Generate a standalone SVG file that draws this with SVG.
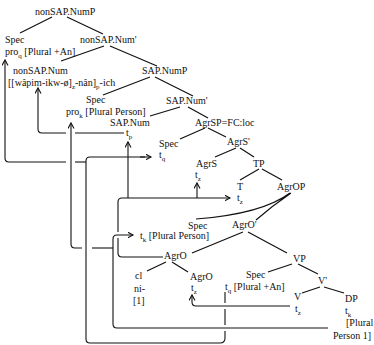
<svg xmlns="http://www.w3.org/2000/svg" width="374" height="345" viewBox="0 0 374 345">
<style>
text{font-family:"Liberation Serif","Times New Roman",serif;font-size:10px;fill:#111}
.s{font-size:7px}
.t{stroke:#111;stroke-width:1.2;fill:none}
.m{stroke:#111;stroke-width:1.1;fill:none}
.a{marker-end:url(#ah)}
</style>
<defs>
<marker id="ah" markerWidth="8" markerHeight="8" refX="5.5" refY="3" orient="auto" markerUnits="userSpaceOnUse"><path d="M0,0 L5.5,3 L0,6" fill="none" stroke="#111" stroke-width="1.1"/></marker>
</defs>
<rect width="374" height="345" fill="#fff"/>
<g id="connectors">
<path class="t" d="M52,17 L20,33 M67,17 L103,34 M104,46 L61,61 M110,46 L157,66 M150,77 L103,95 M155,77 L193,96 M180,107 L150,116 M188,107 L208,118 M205,128 L180,139 M208,128 L226,137 M236,148 L215,157 M240,148 L254,157 M259,169 L240,180 M262,169 L282,180 M290,193 Q262,214 196,219 M291,193 Q272,206 256,220 M243,232 L192,253 M248,232 L287,253 M292,264 L268,272 M298,264 L318,274 M320,287 L302,293 M324,287 L344,293 M166,262 L147,271 M172,262 L188,272"/>
<path class="m" d="M225,292 V303 M225,309 V325 M225,331 V338 Q225,343 220,343 H90 Q86,343 86,339 V161 Q86,157 90,157 H145"/>
<path class="m a" d="M140,157 H151"/>
<path class="m a" d="M66,162 H9 Q5,162 5,158 V60"/>
<path class="m" d="M75,162 H86"/>
<path class="m" d="M124,133 H75"/>
<path class="m a" d="M66,133 H42 Q38,133 38,129 V88"/>
<path class="m a" d="M163,257 H122 Q118,257 118,253 V238 M118,232 V202 Q118,198 122,198 H230"/>
<path class="m a" d="M128,198 V142"/>
<path class="m a" d="M197,198 V183"/>
<path class="m a" d="M328,328 H117 Q113,328 113,324 V239 Q113,235 117,235 H133"/>
<path class="m" d="M113,248 H92"/>
<path class="m a" d="M82,248 H75 Q71,248 71,244 V123"/>
<path class="m a" d="M290,306 H196 Q192,306 192,302 V295"/>
</g>
<g id="n-nonSAP-NumP"><text x="35" y="15">nonSAP.NumP</text></g>
<g id="n-spec-q"><text x="5" y="43">Spec</text><text x="5" y="55">pro<tspan class="s" dy="2.5">q</tspan><tspan dy="-2.5"> [Plural +An]</tspan></text></g>
<g id="n-nonSAP-Numbar"><text x="80" y="43">nonSAP.Num'</text></g>
<g id="n-nonSAP-Num"><text x="13" y="74">nonSAP.Num</text><text x="8" y="86">[[wâpim-ikw-ø]<tspan class="s" dy="2.5">z</tspan><tspan dy="-2.5">-nân]</tspan><tspan class="s" dy="2.5">p</tspan><tspan dy="-2.5">-ich</tspan></text></g>
<g id="n-SAP-NumP"><text x="142" y="74">SAP.NumP</text></g>
<g id="n-spec-k"><text x="86" y="103">Spec</text><text x="66" y="115">pro<tspan class="s" dy="2.5">k</tspan><tspan dy="-2.5"> [Plural Person]</tspan></text></g>
<g id="n-SAP-Numbar"><text x="166" y="104">SAP.Num'</text></g>
<g id="n-SAP-Num"><text x="110" y="126">SAP.Num</text><text x="126" y="136">t<tspan class="s" dy="2.5">p</tspan></text></g>
<g id="n-spec-tq"><text x="159" y="147">Spec</text><text x="159" y="158">t<tspan class="s" dy="2.5">q</tspan></text></g>
<g id="n-AgrSP"><text x="195" y="126">AgrSP=FC:loc</text></g>
<g id="n-AgrSbar"><text x="227" y="145">AgrS'</text></g>
<g id="n-AgrS"><text x="196" y="167">AgrS</text><text x="195" y="178">t<tspan class="s" dy="2.5">z</tspan></text></g>
<g id="n-TP"><text x="253" y="167">TP</text></g>
<g id="n-T"><text x="237" y="190">T</text><text x="237" y="201">t<tspan class="s" dy="2.5">z</tspan></text></g>
<g id="n-AgrOP"><text x="277" y="190">AgrOP</text></g>
<g id="n-spec-tk"><text x="188" y="229">Spec</text><text x="140" y="239">t<tspan class="s" dy="2.5">k</tspan><tspan dy="-2.5"> [Plural Person]</tspan></text></g>
<g id="n-AgrObar"><text x="232" y="228">AgrO'</text></g>
<g id="n-AgrO-upper"><text x="164" y="259">AgrO</text></g>
<g id="n-cl"><text x="135" y="279">cl</text><text x="134" y="292">ni-</text><text x="133" y="304">[1]</text></g>
<g id="n-AgrO-lower"><text x="190" y="280">AgrO</text><text x="191" y="291">t<tspan class="s" dy="2.5">z</tspan></text></g>
<g id="n-spec-vp"><text x="246" y="278">Spec</text><text x="225" y="290">t<tspan class="s" dy="2.5">q</tspan><tspan dy="-2.5"> [Plural +An]</tspan></text></g>
<g id="n-VP"><text x="293" y="262">VP</text></g>
<g id="n-Vbar"><text x="318" y="284">V'</text></g>
<g id="n-V"><text x="294" y="300">V</text><text x="295" y="312">t<tspan class="s" dy="2.5">z</tspan></text></g>
<g id="n-DP"><text x="345" y="302">DP</text><text x="345" y="314">t<tspan class="s" dy="2.5">k</tspan></text><text x="346" y="326">[Plural</text><text x="333" y="339">Person 1]</text></g>
</svg>
